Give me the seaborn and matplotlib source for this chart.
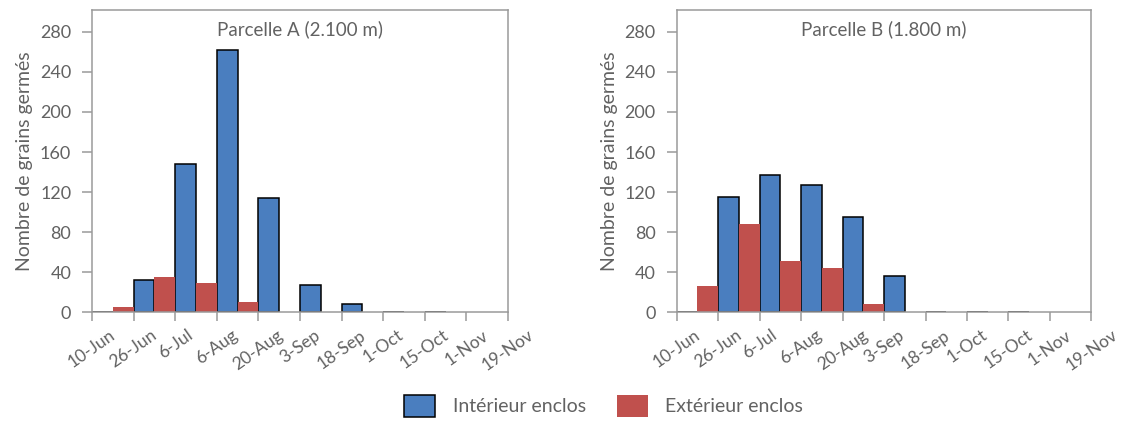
import numpy as np
import pandas as pd
import matplotlib
matplotlib.use('Agg')
import matplotlib.pyplot as plt
from matplotlib.patches import Patch
import seaborn as sns

sns.set_theme(style='white')
plt.rcParams['font.family'] = ['Lato', 'DejaVu Sans']

# bin edges (ticks) and the values per interval
dates = ['10-Jun', '26-Jun', '6-Jul', '6-Aug', '20-Aug', '3-Sep',
         '18-Sep', '1-Oct', '15-Oct', '1-Nov', '19-Nov']
series = ['Intérieur enclos', 'Extérieur enclos']

a_interieur = [0, 32, 148, 262, 114, 27, 8, 0, 0, np.nan]
a_exterieur = [5, 35, 29, 10, 0, 0, 0, 0, 0, 0]
b_interieur = [0, 115, 137, 127, 95, 36, 0, 0, 0, np.nan]
b_exterieur = [26, 88, 51, 44, 8, 0, 0, 0, 0, 0]

titles = ['Parcelle A (2.100 m)', 'Parcelle B (1.800 m)']
yticks = [0, 40, 80, 120, 160, 200, 240, 280]

blue = '#4a7ebf'
red = '#c0504d'
grey = '#626262'
spine_grey = '#9a9a9a'


def make_df(interieur, exterieur):
    intervals = dates[:-1]
    return pd.DataFrame({
        'interval': intervals * 2,
        'serie': [series[0]] * len(intervals) + [series[1]] * len(intervals),
        'value': list(interieur) + list(exterieur),
    })


fig = plt.figure(figsize=(11.24, 4.21), dpi=100)
axes = [fig.add_axes([0.0819, 0.258, 0.370, 0.719]),
        fig.add_axes([0.602, 0.258, 0.369, 0.719])]

panels = [make_df(a_interieur, a_exterieur), make_df(b_interieur, b_exterieur)]

for ax, df, title in zip(axes, panels, titles):
    sns.barplot(
        data=df, x='interval', y='value', hue='serie',
        order=dates[:-1], hue_order=series,
        palette={series[0]: blue, series[1]: red},
        width=1, dodge=True, errorbar=None, legend=False,
        edgecolor='black', linewidth=1.1, saturation=1, ax=ax
    )
    # red bars have no black outline
    for bar in ax.containers[1]:
        bar.set_edgecolor('none')

    ax.set_xlim(-0.5, len(dates) - 1.5)
    ax.set_ylim(0, 302)
    ax.set_xticks(np.arange(len(dates)) - 0.5)
    ax.set_xticklabels(dates, rotation=35, ha='center')
    ax.set_yticks(yticks)

    ax.set_xlabel('')
    ax.set_ylabel('Nombre de grains germés', fontsize=14, color=grey, labelpad=5)
    ax.text(0.5, 0.936, title, transform=ax.transAxes, ha='center',
            va='center', fontsize=13.5, color=grey)

    ax.tick_params(axis='x', direction='out', length=6.5, width=1.1,
                   color=spine_grey, labelcolor=grey, labelsize=12.5, pad=4,
                   bottom=True)
    ax.tick_params(axis='y', direction='out', length=7, width=1.1,
                   color=spine_grey, labelcolor=grey, labelsize=13, pad=8,
                   left=True)
    for sp in ax.spines.values():
        sp.set_color(spine_grey)
        sp.set_linewidth(1.1)
        sp.set_visible(True)
    ax.grid(False)

handles = [Patch(facecolor=blue, edgecolor='black', linewidth=1.1, label=series[0]),
           Patch(facecolor=red, edgecolor='none', label=series[1])]
leg = fig.legend(handles=handles, loc='center', bbox_to_anchor=(0.537, 0.036),
                 ncol=2, frameon=False, fontsize=14, handlelength=1.6,
                 handleheight=1.4, handletextpad=0.9, columnspacing=1.6)
for t in leg.get_texts():
    t.set_color(grey)

fig.savefig('out.png', dpi=100)
